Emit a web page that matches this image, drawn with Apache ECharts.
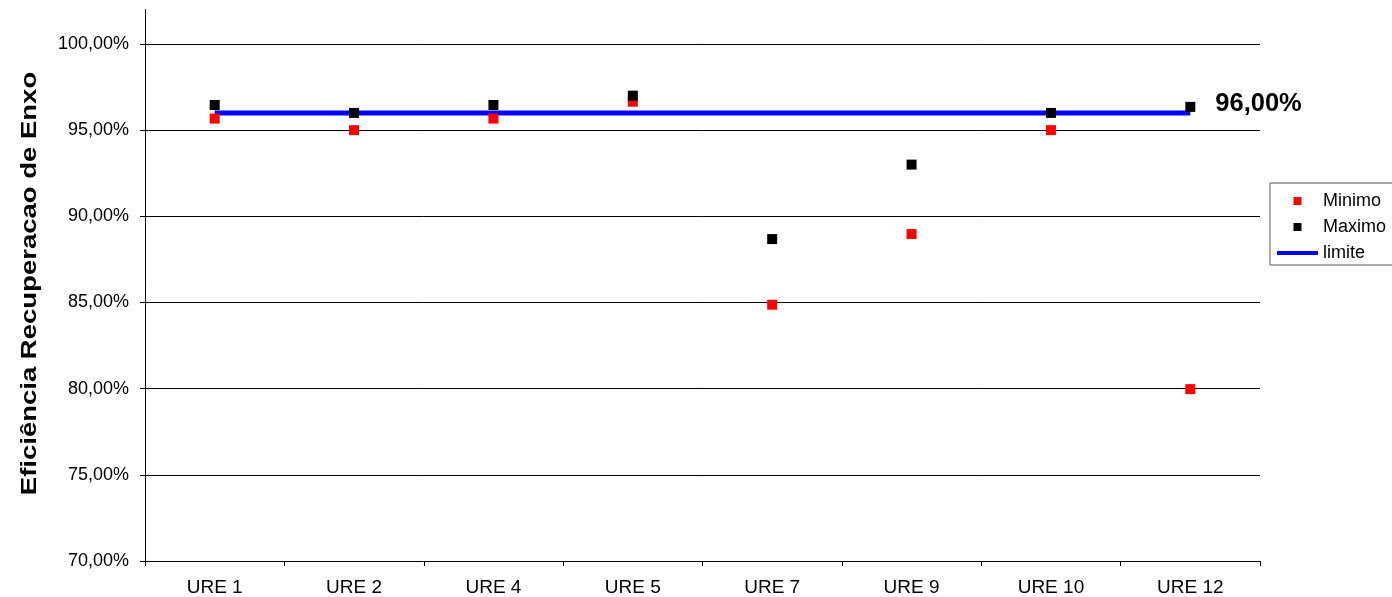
<!DOCTYPE html>
<html>
<head>
<meta charset="utf-8">
<script src="https://cdn.jsdelivr.net/npm/echarts@6/dist/echarts.min.js"></script>
<style>
html,body{margin:0;padding:0;background:#fff;}
#chart{width:1392px;height:597px;}
</style>
</head>
<body>
<div id="chart"></div>
<script>
const categories = ['URE 1','URE 2','URE 4','URE 5','URE 7','URE 9','URE 10','URE 12'];
const minimo = [95.67, 95.0, 95.67, 96.65, 84.87, 88.97, 95.0, 79.97];
const maximo = [96.46, 96.0, 96.46, 97.0, 88.68, 93.0, 96.0, 96.35];
const limite = [96, 96, 96, 96, 96, 96, 96, 96];
const yTicks = [70, 75, 80, 85, 90, 95, 100];
const gridValues = [75, 80, 85, 90, 95, 100];
const yTitle = 'Eficiência Recuperacao de Enxo';

const FONT = "'Liberation Sans', Arial, sans-serif";
const fmt = v => v.toFixed(2).replace('.', ',') + '%';

const chart = echarts.init(document.getElementById('chart'), null, {renderer: 'canvas'});
chart.setOption({
  animation: false,
  backgroundColor: '#fff',
  textStyle: {fontFamily: FONT, color: '#000'},
  grid: {left: 145, right: 132, top: 9.5, bottom: 36, containLabel: false},
  graphic: [{
    type: 'text',
    x: 30, y: 283.5,
    rotation: Math.PI / 2,
    scaleX: 1.25,
    style: {
      text: yTitle,
      fontFamily: FONT, fontSize: 22, fontWeight: 'bold', fill: '#000',
      align: 'center', verticalAlign: 'middle'
    }
  }],
  legend: {
    orient: 'vertical',
    left: 1270, top: 183,
    padding: [9, 20, 3, 7],
    itemWidth: 41, itemHeight: 8, itemGap: 8,
    borderColor: '#555', borderWidth: 1, borderRadius: 0,
    textStyle: {fontFamily: FONT, fontSize: 18, color: '#000'},
    symbolKeepAspect: true,
    data: [
      {name: 'Minimo', icon: 'path://M0,0L10,0L10,10L0,10Z'},
      {name: 'Maximo', icon: 'path://M0,0L10,0L10,10L0,10Z'},
      {name: 'limite', icon: 'path://M0,0L41,0L41,4L0,4Z'}
    ]
  },
  xAxis: {
    type: 'category',
    data: categories,
    boundaryGap: true,
    axisLine: {lineStyle: {color: '#000', width: 1}},
    axisTick: {show: true, length: 5, inside: false, lineStyle: {color: '#000'}},
    axisLabel: {fontFamily: FONT, fontSize: 19, color: '#000', margin: 17},
    splitLine: {show: false}
  },
  yAxis: {
    type: 'value',
    min: 70, max: 102, interval: 5,
    axisLine: {show: true, lineStyle: {color: '#000', width: 1}},
    axisTick: {show: true, length: 5, inside: false, customValues: yTicks, lineStyle: {color: '#000'}},
    axisLabel: {fontFamily: FONT, fontSize: 18, color: '#000', margin: 16, customValues: yTicks,
      formatter: v => (v > 100 ? '' : fmt(v))},
    splitLine: {show: false}
  },
  series: [
    {
      name: 'limite',
      type: 'line',
      data: limite,
      z: 1,
      symbol: 'none',
      itemStyle: {color: '#0000ff'},
      lineStyle: {color: '#0000ff', width: 5},
      endLabel: {
        show: true,
        formatter: p => fmt(p.value),
        fontFamily: FONT, fontSize: 25.5, fontWeight: 'bold', color: '#000',
        distance: 25, offset: [0, -9]
      },
      markLine: {
        silent: true,
        symbol: 'none',
        animation: false,
        z: 0,
        label: {show: false},
        lineStyle: {color: '#000', width: 1, type: 'solid'},
        data: gridValues.map(v => ({yAxis: v}))
      }
    },
    {
      name: 'Minimo',
      type: 'scatter',
      data: minimo,
      z: 3,
      symbol: 'rect',
      symbolSize: 10,
      itemStyle: {color: '#ff0000', opacity: 1}
    },
    {
      name: 'Maximo',
      type: 'scatter',
      data: maximo,
      z: 4,
      symbol: 'rect',
      symbolSize: 10,
      itemStyle: {color: '#000000', opacity: 1}
    }
  ]
});
</script>
</body>
</html>
